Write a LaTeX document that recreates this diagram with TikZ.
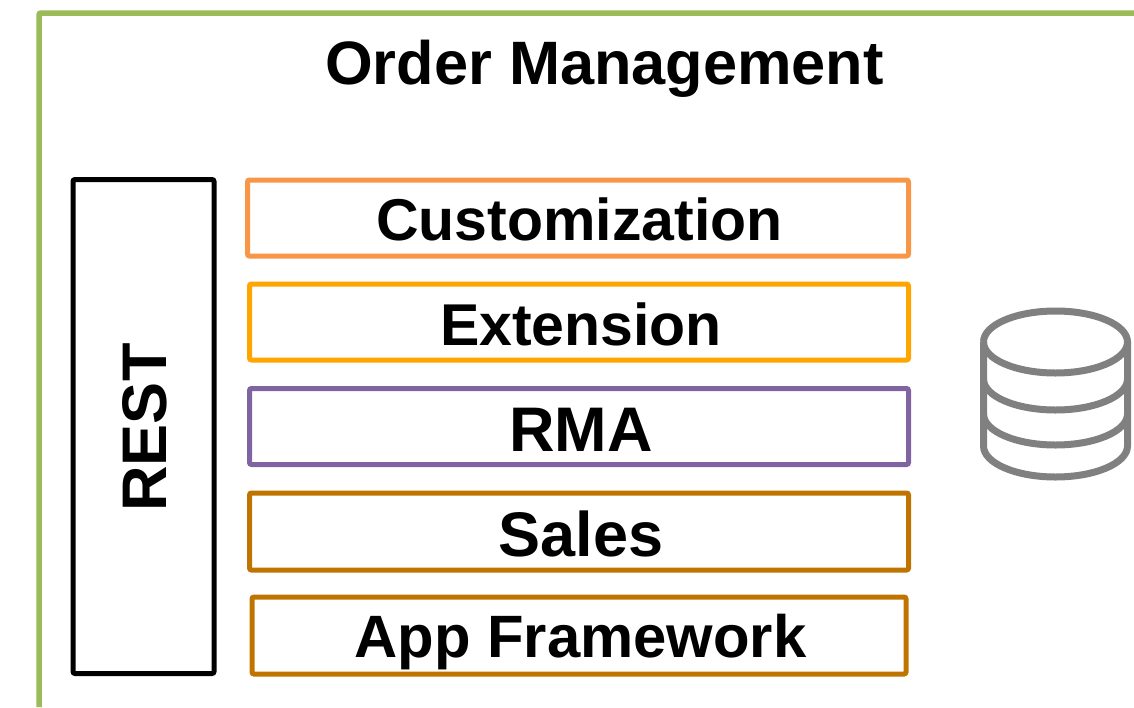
\documentclass[tikz,border=0pt]{standalone}
\usepackage{fontspec}
\setmainfont{Liberation Sans}
\definecolor{cgreen}{HTML}{9BBB59}
\definecolor{corange}{HTML}{F79646}
\definecolor{camber}{HTML}{FFA500}
\definecolor{cpurple}{HTML}{8064A2}
\definecolor{cbrown}{HTML}{C07400}
\definecolor{cgray}{HTML}{808080}
\tikzset{x=1pt,y=-1pt,
 layerbox/.style={draw,line width=5pt,rounded corners=2pt,inner sep=0pt},
 lbl/.style={inner sep=0pt,text=black,font=\bfseries\fontsize{59}{62}\selectfont},
 lblbig/.style={inner sep=0pt,text=black,font=\bfseries\fontsize{63}{66}\selectfont},
}
\begin{document}
\begin{tikzpicture}
\useasboundingbox (0,0) rectangle (1134,707);
\draw[cgreen,line width=5.5pt,rounded corners=2pt] (39,707) -- (39,13) -- (1134,13);
\node[lbl,font=\bfseries\fontsize{61.3}{64}\selectfont] (title) at (604.5,69) {Order Management};
\node[layerbox,draw=black,minimum width=141pt,minimum height=494pt] (rest) at (143.5,426.5) {};
\node[lblbig,rotate=90] (resttext) at (145,427.5) {REST};
\node[layerbox,draw=corange,minimum width=661pt,minimum height=76pt] (c) at (578,218) {};
\node[lbl] (ct) at (579.5,219) {Customization};
\node[layerbox,draw=camber,minimum width=659pt,minimum height=76pt] (e) at (579,322) {};
\node[lbl] (et) at (581,324) {Extension};
\node[layerbox,draw=cpurple,minimum width=659pt,minimum height=76pt] (r) at (579,426.5) {};
\node[lblbig] (rt) at (581,429.5) {RMA};
\node[layerbox,draw=cbrown,minimum width=659pt,minimum height=77pt] (s) at (579,531.5) {};
\node[lblbig] (st) at (581,533.5) {Sales};
\node[layerbox,draw=cbrown,minimum width=654pt,minimum height=77pt] (a) at (579,635.5) {};
\node[lbl,font=\bfseries\fontsize{59.8}{62}\selectfont] (at) at (580.5,642) {App Framework};
\begin{scope}[cgray,line width=7pt]
\draw (983.5,342) arc[start angle=180,end angle=540,x radius=72pt,y radius=31pt];
\draw (983.5,342) -- (983.5,446) arc[start angle=180,end angle=360,x radius=72pt,y radius=31pt] -- (1127.5,342);
\draw (983.5,379) arc[start angle=180,end angle=360,x radius=72pt,y radius=31pt];
\draw (983.5,414) arc[start angle=180,end angle=360,x radius=72pt,y radius=31pt];
\end{scope}
\end{tikzpicture}
\end{document}
